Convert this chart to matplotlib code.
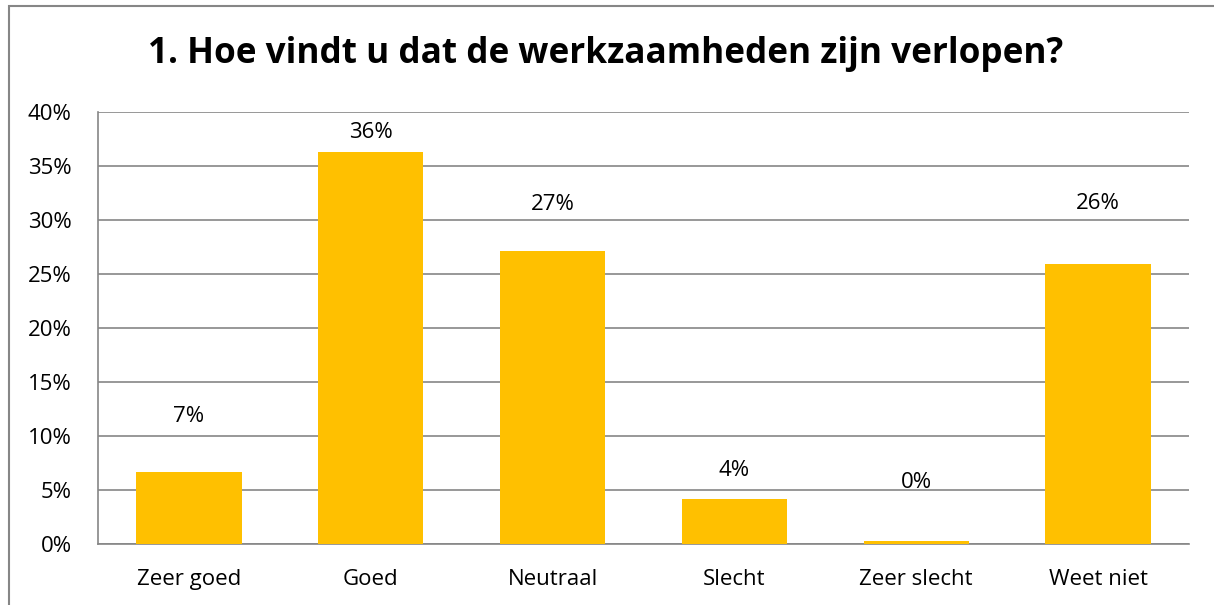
import matplotlib
matplotlib.use("Agg")
import matplotlib.pyplot as plt
from matplotlib.patches import Rectangle

categories = ["Zeer goed", "Goed", "Neutraal", "Slecht", "Zeer slecht", "Weet niet"]
values = [6.7, 36.3, 27.1, 4.2, 0.3, 25.9]
value_labels = ["7%", "36%", "27%", "4%", "0%", "26%"]
label_heights = [11.8, 38.1, 31.4, 6.85, 5.7, 31.5]
yticks = [0, 5, 10, 15, 20, 25, 30, 35, 40]
ytick_labels = ["0%", "5%", "10%", "15%", "20%", "25%", "30%", "35%", "40%"]
title = "1. Hoe vindt u dat de werkzaamheden zijn verlopen?"

plt.rcParams['font.family'] = ['Open Sans', 'DejaVu Sans']

fig = plt.figure(figsize=(12.14, 6.05), dpi=100)
W, H = 1214, 605
ax = fig.add_axes([98 / W, (H - 544) / H, (1189 - 98) / W, (544 - 112) / H])

grid_c = "#868686"
x = list(range(len(categories)))
ax.bar(x, values, width=0.58, color="#FFC000", zorder=3)
ax.set_xlim(-0.5, len(categories) - 0.5)
ax.set_ylim(0, 40)
ax.set_yticks(yticks)
ax.set_yticklabels(ytick_labels, fontsize=16)
ax.set_xticks(x)
ax.set_xticklabels(categories, fontsize=16)
ax.tick_params(axis='both', length=0, colors='black')
ax.tick_params(axis='y', pad=19)
ax.tick_params(axis='x', pad=18)
ax.yaxis.grid(True, color=grid_c, linewidth=1.2, zorder=0)
ax.set_axisbelow(True)
for s in ["top", "right"]:
    ax.spines[s].set_visible(False)
for s in ["left", "bottom"]:
    ax.spines[s].set_color(grid_c)
    ax.spines[s].set_linewidth(1.2)

for xi, lab, ly in zip(x, value_labels, label_heights):
    ax.text(xi, ly, lab, ha='center', va='center', fontsize=16, color='black')

fig.text(606 / W, 1 - 54 / H, title, ha='center', va='center',
         fontsize=25.3, fontweight='bold', color='black')

fig.patches.append(Rectangle((9 / W, -0.1), 1.2, 1 - 6 / H + 0.1,
                             transform=fig.transFigure, fill=False,
                             edgecolor=grid_c, linewidth=1.5))

fig.savefig("out.png", dpi=100, facecolor="white")
